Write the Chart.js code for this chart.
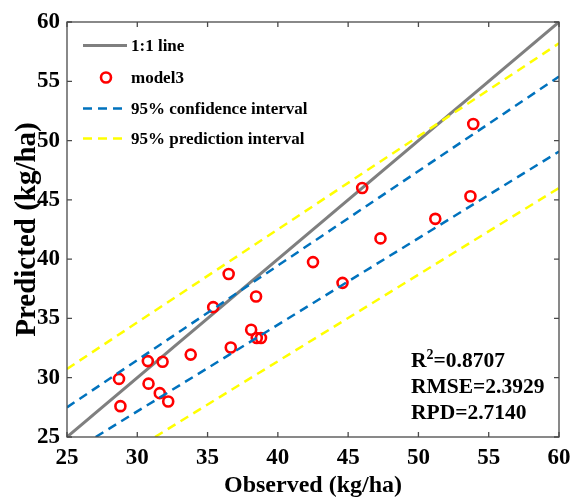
<!DOCTYPE html>
<html>
<head>
<meta charset="utf-8">
<script src="https://cdn.jsdelivr.net/npm/chart.js@4.4.0/dist/chart.umd.min.js"></script>
<style>
html,body{margin:0;padding:0;background:#fff;}
#wrap{width:573px;height:500px;}
</style>
</head>
<body>
<div id="wrap"><canvas id="c" width="573" height="500"></canvas></div>
<script>
// ---- data ----
const observed  = [28.7, 28.8, 30.8, 30.75, 31.8, 31.6, 32.2, 33.8, 35.4, 36.5, 36.65, 38.45, 38.1, 38.5, 38.8, 42.5, 44.6, 46.0, 47.3, 51.2, 53.7, 53.9];
const predicted = [29.9, 27.6, 29.5, 31.4, 31.35, 28.7, 28.0, 31.95, 35.95, 38.75, 32.55, 36.85, 34.05, 33.35, 33.35, 39.75, 38.0, 46.0, 41.75, 43.4, 45.3, 51.4];

const oneToOneX = [25, 60];
const oneToOneY = [25, 60];
const ciUpperX = [25, 60];
const ciUpperY = [27.5, 55.4];
const ciLowerX = [27.04, 60];
const ciLowerY = [25, 49.07];
const piUpperX = [25, 60];
const piUpperY = [30.74, 58.2];
const piLowerX = [31.26, 60];
const piLowerY = [25, 46.0];

const axisMin = 25, axisMax = 60, axisStep = 5;
const seriesNames = ['1:1 line', 'model3', '95% confidence interval', '95% prediction interval'];
const statLines = [['R', '2', '=0.8707'], ['RMSE=2.3929'], ['RPD=2.7140']];
const xTitle = 'Observed (kg/ha)';
const yTitle = 'Predicted (kg/ha)';

const FONT = "'Liberation Serif', 'Times New Roman', serif";
const toXY = (xs, ys) => xs.map((v, i) => ({x: v, y: ys[i]}));

const frame = {
  id: 'frame',
  afterDatasetsDraw(chart) {
    const {ctx, chartArea: {left, right, top, bottom}, scales: {x, y}} = chart;
    ctx.save();
    ctx.strokeStyle = '#4a4a4a';
    ctx.lineWidth = 1.3;
    ctx.strokeRect(left, top, right - left, bottom - top);
    const tl = 5;
    ctx.beginPath();
    x.ticks.forEach(t => {
      const px = x.getPixelForValue(t.value);
      ctx.moveTo(px, bottom); ctx.lineTo(px, bottom - tl);
      ctx.moveTo(px, top); ctx.lineTo(px, top + tl);
    });
    y.ticks.forEach(t => {
      const py = y.getPixelForValue(t.value);
      ctx.moveTo(left, py); ctx.lineTo(left + tl, py);
      ctx.moveTo(right, py); ctx.lineTo(right - tl, py);
    });
    ctx.stroke();
    ctx.restore();
  },
  afterDraw(chart) {
    const {ctx} = chart;
    const sets = chart.data.datasets.filter(d => !d.legendSkip);
    ctx.save();
    // legend
    const sx0 = 83, sx1 = 127, tx = 131;
    const baselines = [51, 83, 114, 144];
    ctx.fillStyle = '#000';
    ctx.textBaseline = 'alphabetic';
    ctx.textAlign = 'left';
    sets.forEach((ds, i) => {
      const cy = baselines[i] - 5.5;
      ctx.save();
      ctx.strokeStyle = ds.borderColor;
      ctx.lineWidth = ds.borderWidth;
      ctx.beginPath();
      if (ds.showLine) {
        ctx.setLineDash(ds.borderDash || []);
        ctx.moveTo(sx0, cy); ctx.lineTo(sx1, cy);
      } else {
        ctx.arc((sx0 + sx1) / 2 + 1, cy, ds.pointRadius, 0, Math.PI * 2);
      }
      ctx.stroke();
      ctx.restore();
      ctx.font = "bold 17px " + FONT;
      ctx.fillText(ds.label, tx, baselines[i]);
    });
    // stats
    const stx = 411;
    const sb = [367, 393, 419];
    const big = "bold 21.5px " + FONT, small = "bold 14px " + FONT;
    statLines.forEach((parts, i) => {
      let cx = stx;
      if (parts.length === 3) {
        ctx.font = big;
        ctx.fillText(parts[0], cx, sb[i]);
        cx += ctx.measureText(parts[0]).width;
        ctx.font = small;
        ctx.fillText(parts[1], cx, sb[i] - 8);
        cx += ctx.measureText(parts[1]).width;
        ctx.font = big;
        ctx.fillText(parts[2], cx, sb[i]);
      } else {
        ctx.font = big;
        ctx.fillText(parts[0], cx, sb[i]);
      }
    });
    ctx.restore();
  }
};

const tickFont = {family: FONT, size: 23, weight: 'bold'};

new Chart(document.getElementById('c'), {
  type: 'scatter',
  data: {
    datasets: [
      {label: seriesNames[0], data: toXY(oneToOneX, oneToOneY), showLine: true, borderColor: '#7f7f7f', borderWidth: 3, pointRadius: 0, fill: false, order: 4},
      {label: seriesNames[1], data: toXY(observed, predicted), showLine: false, borderColor: '#ff0000', backgroundColor: 'rgba(0,0,0,0)', borderWidth: 2.6, pointRadius: 5, pointHoverRadius: 5, order: 3},
      {label: seriesNames[2], data: toXY(ciUpperX, ciUpperY), showLine: true, borderColor: '#0072bd', borderWidth: 2.5, borderDash: [9, 6], pointRadius: 0, fill: false, order: 2},
      {label: seriesNames[2], data: toXY(ciLowerX, ciLowerY), showLine: true, borderColor: '#0072bd', borderWidth: 2.5, borderDash: [9, 6], pointRadius: 0, fill: false, order: 2, legendSkip: true},
      {label: seriesNames[3], data: toXY(piUpperX, piUpperY), showLine: true, borderColor: '#ffff00', borderWidth: 2.5, borderDash: [9, 6], pointRadius: 0, fill: false, order: 1},
      {label: seriesNames[3], data: toXY(piLowerX, piLowerY), showLine: true, borderColor: '#ffff00', borderWidth: 2.5, borderDash: [9, 6], pointRadius: 0, fill: false, order: 1, legendSkip: true}
    ]
  },
  options: {
    responsive: false,
    animation: false,
    devicePixelRatio: 1,
    layout: {padding: {top: 22, right: 14, left: 0, bottom: 0}},
    plugins: {legend: {display: false}, tooltip: {enabled: false}},
    scales: {
      x: {
        type: 'linear', min: axisMin, max: axisMax,
        ticks: {stepSize: axisStep, font: tickFont, color: '#000', padding: 7, maxRotation: 0},
        grid: {display: false, drawTicks: false},
        border: {display: false},
        title: {display: true, text: xTitle, font: {family: FONT, size: 24, weight: 'bold'}, color: '#000', padding: {top: 0, bottom: 0}},
        afterFit: s => { s.height = 63; s.paddingLeft = 0; s.paddingRight = 0; }
      },
      y: {
        type: 'linear', min: axisMin, max: axisMax,
        ticks: {stepSize: axisStep, font: tickFont, color: '#000', padding: 7},
        grid: {display: false, drawTicks: false},
        border: {display: false},
        title: {display: true, text: yTitle, font: {family: FONT, size: 29, weight: 'bold'}, color: '#000', padding: {top: 10, bottom: 0}},
        afterFit: s => { s.width = 67; s.paddingTop = 0; s.paddingBottom = 0; }
      }
    }
  },
  plugins: [frame]
});
</script>
</body>
</html>
